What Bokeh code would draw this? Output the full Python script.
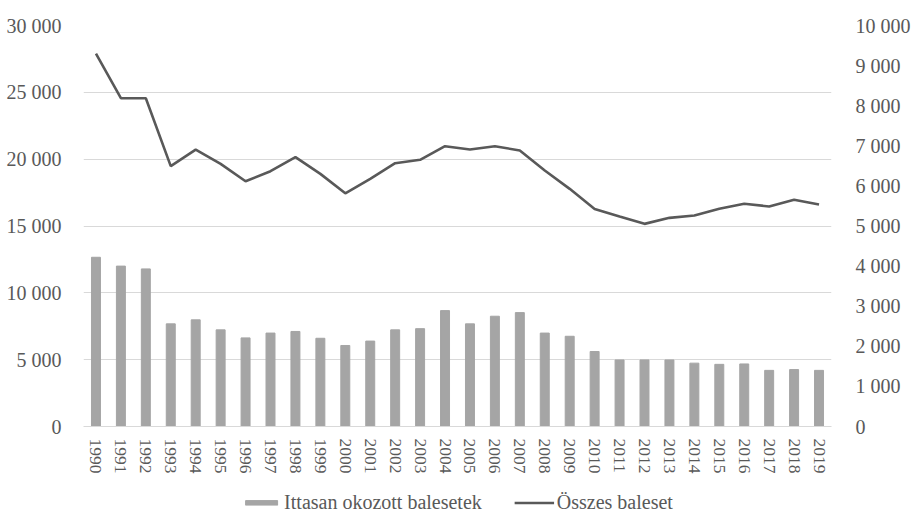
from bokeh.plotting import figure
from bokeh.models import Range1d, LinearAxis, FixedTicker, Legend, LegendItem, FactorRange
from bokeh.layouts import column
from bokeh.embed import file_html
from bokeh.resources import INLINE

years = ["1990", "1991", "1992", "1993", "1994", "1995", "1996", "1997", "1998", "1999",
         "2000", "2001", "2002", "2003", "2004", "2005", "2006", "2007", "2008", "2009",
         "2010", "2011", "2012", "2013", "2014", "2015", "2016", "2017", "2018", "2019"]

# Összes baleset (left axis)
total = [27900, 24560, 24560, 19480, 20720, 19650, 18350, 19100, 20150, 18900,
         17450, 18530, 19700, 19950, 20970, 20720, 20970, 20650, 19150, 17780,
         16280, 15710, 15160, 15610, 15790, 16290, 16660, 16460, 16960, 16610]

# Ittasan okozott balesetek (right axis)
drunk = [4220, 4000, 3930, 2560, 2660, 2410, 2210, 2330, 2370, 2200,
         2020, 2130, 2410, 2440, 2890, 2560, 2750, 2840, 2330, 2250,
         1870, 1660, 1660, 1660, 1580, 1550, 1560, 1400, 1420, 1400]

series_names = ["Ittasan okozott balesetek", "Összes baleset"]

left_ticks = [0, 5000, 10000, 15000, 20000, 25000, 30000]
left_labels = ["0", "5 000", "10 000", "15 000", "20 000", "25 000", "30 000"]
right_ticks = [0, 1000, 2000, 3000, 4000, 5000, 6000, 7000, 8000, 9000, 10000]
right_labels = ["0", "1 000", "2 000", "3 000", "4 000", "5 000", "6 000", "7 000", "8 000", "9 000", "10 000"]

FONT = "Liberation Serif"
FS = "20px"
FS_X = "17.5px"
TXT = "#595959"
BAR_C = "#a5a5a5"
LINE_C = "#595959"
W = 913

p = figure(x_range=FactorRange(*years), y_range=Range1d(0, 30000),
           width=W, height=482, output_backend="svg", toolbar_location=None,
           min_border_left=83, min_border_right=W - 838, min_border_top=25, min_border_bottom=56)
p.extra_y_ranges = {"right": Range1d(0, 10000)}
p.outline_line_color = None

bars = p.vbar(x=years, top=drunk, width=0.36, color=BAR_C, y_range_name="right")
line = p.line(x=years, y=total, line_color=LINE_C, line_width=2.6)

# grid
p.xgrid.grid_line_color = None
p.ygrid.ticker = FixedTicker(ticks=left_ticks)
p.ygrid.grid_line_color = "#d9d9d9"

# left axis
ly = p.yaxis[0]
ly.ticker = FixedTicker(ticks=left_ticks)
ly.major_label_overrides = {t: l for t, l in zip(left_ticks, left_labels)}
ly.axis_line_color = None
ly.major_tick_line_color = None
ly.minor_tick_line_color = None
ly.major_label_standoff = 16
ly.major_label_text_font = FONT
ly.major_label_text_font_size = FS
ly.major_label_text_color = TXT

# right axis
ry = LinearAxis(y_range_name="right", ticker=FixedTicker(ticks=right_ticks))
ry.major_label_overrides = {t: l for t, l in zip(right_ticks, right_labels)}
ry.axis_line_color = None
ry.major_tick_line_color = None
ry.minor_tick_line_color = None
ry.major_label_standoff = 18
ry.major_label_text_font = FONT
ry.major_label_text_font_size = FS
ry.major_label_text_color = TXT
p.add_layout(ry, "right")

# x axis
xa = p.xaxis[0]
xa.major_label_orientation = "vertical"
xa.axis_line_color = "#d9d9d9"
xa.major_tick_line_color = None
xa.major_tick_out = 0
xa.minor_tick_line_color = None
xa.major_label_standoff = 12
xa.major_label_text_font = FONT
xa.major_label_text_font_size = FS_X
xa.major_label_text_color = TXT

# legend figure below the chart (sample glyphs kept outside its visible range)
lf = figure(width=W, height=40, output_backend="svg", toolbar_location=None,
            x_range=Range1d(0, 1), y_range=Range1d(0, 1),
            min_border_left=83, min_border_right=W - 838, min_border_top=0, min_border_bottom=0)
lf.axis.visible = False
lf.grid.visible = False
lf.outline_line_color = None
lb = lf.vbar(x=[-10], top=[-10], width=0.36, color=BAR_C)
ll = lf.line(x=[-10, -9], y=[-10, -10], line_color=LINE_C, line_width=2.6)

legend = Legend(items=[LegendItem(label=series_names[0], renderers=[lb]),
                       LegendItem(label=series_names[1], renderers=[ll])],
                orientation="horizontal", location="center",
                border_line_color=None, background_fill_alpha=0,
                padding=0, margin=0, spacing=32, glyph_width=40, glyph_height=6,
                label_standoff=3, label_text_font=FONT, label_text_font_size=FS,
                label_text_color=TXT)
lf.add_layout(legend, "center")

layout = column(p, lf, spacing=0)
open("out.html", "w").write(file_html(layout, INLINE))
